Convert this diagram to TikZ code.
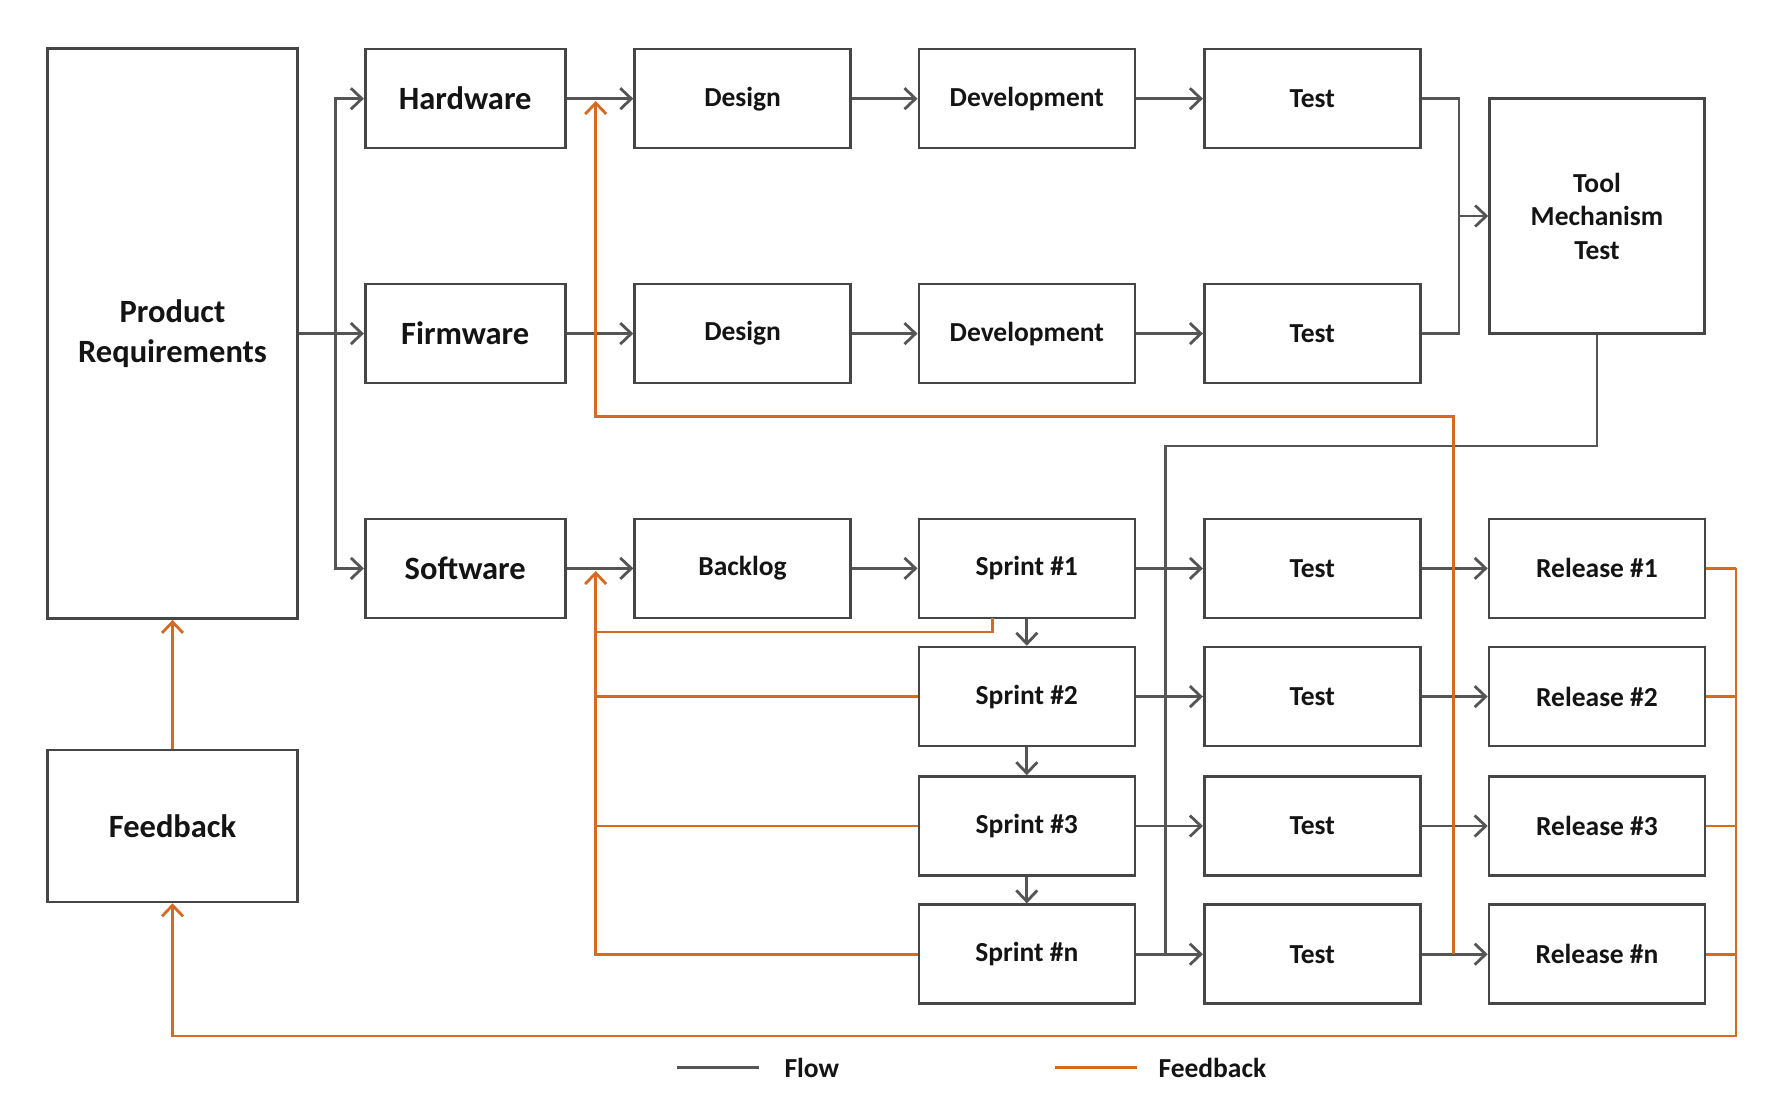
\documentclass[tikz,border=0pt]{standalone}
\usepackage{fontspec}
\setmainfont{Carlito}
\usetikzlibrary{arrows.meta,calc}
\definecolor{flowgray}{RGB}{85,85,85}
\definecolor{boxgray}{RGB}{70,70,70}
\definecolor{fborange}{RGB}{214,106,32}
\definecolor{txt}{RGB}{20,20,20}
\tikzset{
  box/.style={draw=boxgray, line width=2.6pt, fill=white, inner sep=0pt, align=center, text=txt, font=\bfseries\fontsize{27.5}{33.5}\selectfont},
  bigtxt/.style={font=\bfseries\fontsize{32.5}{40}\selectfont},
  wA/.style={minimum width=200pt, minimum height=99pt},
  wB/.style={minimum width=216pt, minimum height=99pt},
  flow/.style={draw=flowgray, line width=2.8pt},
  fb/.style={draw=fborange, line width=2.8pt},
  tip/.style={-{Straight Barb[length=11pt,width=21pt,line width=2.8pt]}},
  legtxt/.style={text=txt, font=\bfseries\fontsize{27.5}{33}\selectfont, anchor=west},
}
\begin{document}
\begin{tikzpicture}[x=1pt,y=-1pt]
\useasboundingbox (0,0) rectangle (1779,1102);
% boxes
\node[box,bigtxt,minimum width=250pt,minimum height=570pt] (PR) at (172.5,333.6) {Product\\Requirements};
\node[box,bigtxt,minimum width=250pt,minimum height=152pt] (FB) at (172.5,826) {Feedback};
\node[box,bigtxt,wA] (HW) at (465.2,98.7) {Hardware};
\node[box,bigtxt,wA] (FW) at (465.2,333.6) {Firmware};
\node[box,bigtxt,wA] (SW) at (465.2,568.4) {Software};
\node[box,wB] (D1) at (742.6,98.7) {Design};
\node[box,wB] (D2) at (742.6,333.6) {Design};
\node[box,wB] (BL) at (742.6,568.4) {Backlog};
\node[box,wB] (V1) at (1026.8,98.7) {Development};
\node[box,wB] (V2) at (1026.8,333.6) {Development};
\node[box,wB] (S1) at (1026.8,568.4) {Sprint \#1};
\node[box,wB] (S2) at (1026.8,696.6) {Sprint \#2};
\node[box,wB] (S3) at (1026.8,826) {Sprint \#3};
\node[box,wB] (Sn) at (1026.8,954.2) {Sprint \#n};
\node[box,wB] (T1) at (1312.2,98.7) {Test};
\node[box,wB] (T2) at (1312.2,333.6) {Test};
\node[box,wB] (T3) at (1312.2,568.4) {Test};
\node[box,wB] (T4) at (1312.2,696.6) {Test};
\node[box,wB] (T5) at (1312.2,826) {Test};
\node[box,wB] (T6) at (1312.2,954.2) {Test};
\node[box,minimum width=215pt,minimum height=235pt] (TM) at (1597,216) {Tool\\Mechanism\\Test};
\node[box,wB] (R1) at (1597,568.4) {Release \#1};
\node[box,wB] (R2) at (1597,696.6) {Release \#2};
\node[box,wB] (R3) at (1597,826) {Release \#3};
\node[box,wB] (Rn) at (1597,954.2) {Release \#n};
% coordinates
\coordinate (bus) at (335.8,333.6);
\coordinate (tmj) at (1459,216);
\coordinate (tmb) at (1597,445.9);
\coordinate (snj) at (1165.2,954.2);
\coordinate (fbx) at (595.7,416.4);
\coordinate (rnj) at (1453.4,954.2);
\coordinate (hwj) at (595.7,101);
\coordinate (swj) at (595.7,571);
\coordinate (s1a) at (992.8,618.4);
\coordinate (s1b) at (595.7,632);
\coordinate (rbus) at (1736,1035.9);
% flow connectors
\draw[flow,tip] (PR.east) -- (FW.west);
\draw[flow,tip] (bus) |- (HW.west);
\draw[flow,tip] (bus) |- (SW.west);
\draw[flow,tip] (HW) -- (D1);
\draw[flow,tip] (D1) -- (V1);
\draw[flow,tip] (V1) -- (T1);
\draw[flow,tip] (FW) -- (D2);
\draw[flow,tip] (D2) -- (V2);
\draw[flow,tip] (V2) -- (T2);
\draw[flow] (T1.east) -| (tmj);
\draw[flow] (T2.east) -| (tmj);
\draw[flow,tip] (tmj) -- (TM.west);
\draw[flow] (TM.south) -- (tmb) -| (snj);
\draw[flow,tip] (SW) -- (BL);
\draw[flow,tip] (BL) -- (S1);
\draw[flow,tip] (S1) -- (T3);
\draw[flow,tip] (S2) -- (T4);
\draw[flow,tip] (S3) -- (T5);
\draw[flow,tip] (Sn) -- (T6);
\draw[flow,tip] (T3) -- (R1);
\draw[flow,tip] (T4) -- (R2);
\draw[flow,tip] (T5) -- (R3);
\draw[flow,tip] (T6) -- (Rn);
\draw[flow,tip] (S1) -- (S2);
\draw[flow,tip] (S2) -- (S3);
\draw[flow,tip] (S3) -- (Sn);
% feedback connectors
\draw[fb,tip] (rnj) |- (fbx) -- (hwj);
\draw[fb] (s1a) |- (s1b);
\draw[fb,tip] (Sn.west) -| (swj);
\draw[fb] (S2.west) -- (S2.west -| swj);
\draw[fb] (S3.west) -- (S3.west -| swj);
\draw[fb] (R1.east) -- (R1.east -| rbus);
\draw[fb] (R2.east) -- (R2.east -| rbus);
\draw[fb] (R3.east) -- (R3.east -| rbus);
\draw[fb] (Rn.east) -- (Rn.east -| rbus);
\draw[fb,tip] (R1.east -| rbus) -- (rbus) -| (FB.south);
\draw[fb,tip] (FB.north) -- (PR.south);
% legend
\coordinate (l1a) at (677.4,1067.6);
\coordinate (l1b) at (759,1067.6);
\coordinate (l2a) at (1055,1067.6);
\coordinate (l2b) at (1137,1067.6);
\draw[flow] (l1a) -- (l1b);
\draw[fb] (l2a) -- (l2b);
\node[legtxt] (lf) at (781,1068) {Flow};
\node[legtxt] (lfb) at (1155,1068) {Feedback};
\end{tikzpicture}
\end{document}
